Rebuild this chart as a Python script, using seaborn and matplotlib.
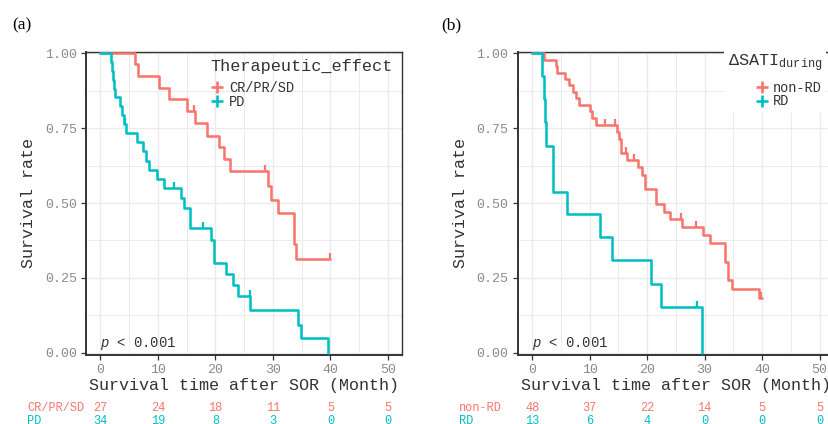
import numpy as np
import pandas as pd
import matplotlib
matplotlib.use('Agg')
import matplotlib.pyplot as plt
import seaborn as sns
from matplotlib.lines import Line2D
from matplotlib.path import Path
from matplotlib.transforms import blended_transform_factory

# ---------------- data ----------------
# Panel (a): Therapeutic_effect
a_cr_time = [0, 6.1, 6.6, 10.2, 11.9, 15.1, 16.5, 18.5, 20.6, 21.5, 22.5, 29.1, 29.7, 30.8, 33.7, 34.0, 40.0]
a_cr_surv = [1.0, 0.963, 0.924, 0.884, 0.846, 0.806, 0.766, 0.725, 0.686, 0.647, 0.606, 0.558, 0.511, 0.468, 0.364, 0.312, 0.312]
a_cr_cens = [16.3, 28.6, 40.0]

a_pd_time = [0, 1.8, 2.0, 2.2, 2.35, 2.5, 3.4, 3.7, 4.1, 4.5, 6.3, 7.4, 8.0, 8.4, 9.9, 11.1, 14.1, 14.6,
             15.5, 15.6, 19.3, 19.7, 21.8, 23.1, 24.0, 26.1, 34.3, 34.8, 39.5]
a_pd_surv = [1.0, 0.971, 0.941, 0.912, 0.882, 0.853, 0.824, 0.794, 0.765, 0.735, 0.704, 0.673, 0.642, 0.611,
             0.580, 0.549, 0.518, 0.484, 0.449, 0.415, 0.376, 0.301, 0.263, 0.226, 0.188, 0.143, 0.094, 0.048, 0.0]
a_pd_cens = [4.3, 12.8, 17.8, 26.0]

a_labels = ['CR/PR/SD', 'PD']
a_risk = [[27, 24, 18, 11, 5, 5], [34, 19, 8, 3, 0, 0]]

# Panel (b): delta SATI during
b_nr_time = [0, 2.0, 4.1, 4.4, 5.8, 6.5, 7.1, 7.7, 8.2, 10.0, 10.4, 11.1, 14.8, 15.2, 15.4, 16.5, 18.5,
             19.2, 19.7, 21.5, 22.9, 23.9, 26.1, 29.8, 30.9, 33.6, 34.0, 34.8, 39.4, 39.9]
b_nr_surv = [1.0, 0.979, 0.957, 0.935, 0.914, 0.893, 0.872, 0.851, 0.828, 0.806, 0.785, 0.762, 0.738, 0.714,
             0.667, 0.644, 0.620, 0.595, 0.546, 0.497, 0.471, 0.447, 0.421, 0.393, 0.366, 0.304, 0.243, 0.212,
             0.182, 0.182]
b_nr_cens = [12.7, 14.5, 16.3, 17.7, 25.9, 28.5, 39.8]

b_rd_time = [0, 1.8, 2.0, 2.3, 2.5, 3.6, 3.7, 6.0, 11.8, 13.9, 20.6, 22.4, 29.5]
b_rd_surv = [1.0, 0.923, 0.846, 0.769, 0.692, 0.615, 0.538, 0.462, 0.385, 0.308, 0.231, 0.154, 0.0]
b_rd_cens = [28.6]

b_labels = ['non-RD', 'RD']
b_risk = [[48, 37, 22, 14, 5, 5], [13, 6, 4, 0, 0, 0]]

risk_times = [0, 10, 20, 30, 40, 50]
x_ticks = [0, 10, 20, 30, 40, 50]
y_ticks = [0.0, 0.25, 0.5, 0.75, 1.0]
y_ticklabels = ['0.00', '0.25', '0.50', '0.75', '1.00']

colors = ['#F8766D', '#00BFC4']

# ---------------- style ----------------
sns.set_style('white')
MONO = 'Liberation Mono'
plt.rcParams['font.family'] = [MONO, 'DejaVu Sans']
plt.rcParams['mathtext.fontset'] = 'custom'
plt.rcParams['mathtext.rm'] = MONO
plt.rcParams['mathtext.it'] = MONO + ':italic'
plt.rcParams['mathtext.tt'] = MONO

W, H = 829, 424
fig = plt.figure(figsize=(W / 100, H / 100), dpi=100)

ax_w = 316.3 / W
ax_h = 303 / H
ax_bottom = 1 - 355 / H
axA = fig.add_axes([86 / W, ax_bottom, ax_w, ax_h])
axB = fig.add_axes([517.7 / W, ax_bottom, ax_w, ax_h])

tick_grey = '#8a8a8a'
dark = '#333333'

tick_path = Path([(0, 0), (0, 1)], [Path.MOVETO, Path.LINETO])


def level_at(times, survs, t):
    idx = np.searchsorted(np.asarray(times), t, side='right') - 1
    return survs[idx]


def panel(ax, groups, times, survs, cens, risk, legend_title, leg_kw):
    frames = []
    for g, t, s in zip(groups, times, survs):
        frames.append(pd.DataFrame({'time': t, 'surv': s, 'group': g}))
    df = pd.concat(frames, ignore_index=True)
    sns.lineplot(data=df, x='time', y='surv', hue='group', hue_order=groups,
                 palette=colors, drawstyle='steps-post', estimator=None, sort=False,
                 legend=False, linewidth=1.85, ax=ax, zorder=3)
    for g, t, s, c, col in zip(groups, times, survs, cens, colors):
        lv = [level_at(t, s, ct) for ct in c]
        ax.plot(c, lv, linestyle='', marker=tick_path, markersize=8.5,
                markeredgewidth=1.6, color=col, zorder=3)

    ax.set_xlim(-2.5, 52.5)
    ax.set_ylim(-0.0077, 1.0045)
    ax.set_xticks(x_ticks)
    ax.set_xticks([5, 15, 25, 35, 45], minor=True)
    ax.set_yticks(y_ticks)
    ax.set_yticklabels(y_ticklabels)
    ax.set_yticks([0.125, 0.375, 0.625, 0.875], minor=True)
    ax.grid(True, which='major', color='#EBEBEB', linewidth=1.0, zorder=0)
    ax.grid(True, which='minor', color='#EBEBEB', linewidth=0.7, zorder=0)
    ax.set_axisbelow(True)
    ax.tick_params(which='major', length=3.6, width=0.9, color=dark, pad=3,
                   labelsize=9.6, labelcolor=tick_grey, bottom=True, left=True)
    ax.tick_params(which='minor', length=0)
    for sp in ax.spines.values():
        sp.set_color(dark)
        sp.set_linewidth(1.0)
    ax.spines['left'].set_linewidth(1.4)
    ax.spines['bottom'].set_linewidth(1.4)

    ax.set_xlabel('Survival time after SOR (Month)', fontsize=12.1, color=dark, labelpad=1)
    ax.set_ylabel('Survival rate', fontsize=12.1, color=dark, labelpad=6)

    ax.text(0, 0.032, '$p$ < 0.001', fontsize=10, color=dark, ha='left', va='center', zorder=4)

    handles = [Line2D([], [], color=c, marker='+', linestyle='', markersize=8, markeredgewidth=1.9)
               for c in colors]
    leg = ax.legend(handles, groups, title=legend_title,
                    prop={'family': MONO, 'size': 9.8},
                    title_fontproperties={'family': MONO, 'size': 12.2},
                    handlelength=1.0, handletextpad=0.35, labelspacing=-0.04,
                    borderaxespad=0, **leg_kw)
    leg.get_title().set_color(dark)
    for txt in leg.get_texts():
        txt.set_color(dark)
    leg.set_zorder(6)
    # gap between the legend title and its entries
    try:
        leg._legend_box.sep = 5.0
    except Exception:
        pass

    # number-at-risk table below the panel
    trans = blended_transform_factory(ax.transData, fig.transFigure)
    for row, (lab, vals, col) in enumerate(zip(groups, risk, colors)):
        yy = 1 - (408.3 + 12.6 * row) / H
        ax.text(-12.7, yy, lab, transform=trans, ha='left', va='center', fontsize=8.6,
                color=col, clip_on=False)
        for tt, v in zip(risk_times, vals):
            ax.text(tt, yy, str(v), transform=trans, ha='center', va='center', fontsize=8.6,
                    color=col, clip_on=False)


panel(axA, a_labels, [a_cr_time, a_pd_time], [a_cr_surv, a_pd_surv], [a_cr_cens, a_pd_cens],
      a_risk, 'Therapeutic_effect',
      dict(loc='upper left', bbox_to_anchor=(0.385, 0.985), frameon=False, alignment='left',
           borderpad=0.2))

panel(axB, b_labels, [b_nr_time, b_rd_time], [b_nr_surv, b_rd_surv], [b_nr_cens, b_rd_cens],
      b_risk, 'ΔSATI$_{\\mathrm{during}}$',
      dict(loc='upper right', bbox_to_anchor=(0.975, 1.012), frameon=True, facecolor='white',
           edgecolor='none', framealpha=1, fancybox=False, alignment='right', borderpad=0.3))

fig.text(12.7 / W, 1 - 25 / H, '(a)', family='Liberation Serif', fontsize=12.5, color='black',
         ha='left', va='center')
fig.text(441 / W, 1 - 25 / H, '(b)', family='Liberation Serif', fontsize=12.5, color='black',
         ha='left', va='center')

fig.savefig('out.png', dpi=100)
